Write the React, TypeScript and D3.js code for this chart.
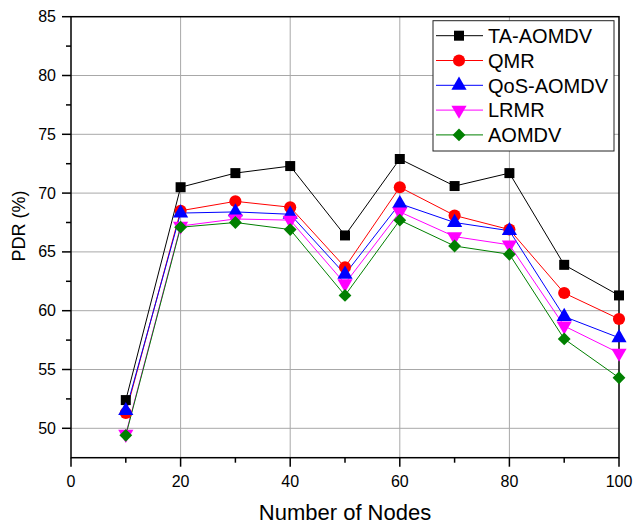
import React from "react";
import * as d3 from "d3";

const nodes = [10, 20, 30, 40, 50, 60, 70, 80, 90, 100];
const seriesNames = ["TA-AOMDV", "QMR", "QoS-AOMDV", "LRMR", "AOMDV"];
const taAomdv = [52.4, 70.5, 71.7, 72.3, 66.4, 72.9, 70.6, 71.7, 63.9, 61.3];
const qmr = [51.3, 68.5, 69.3, 68.8, 63.7, 70.5, 68.1, 66.9, 61.5, 59.3];
const qosAomdv = [51.5, 68.3, 68.4, 68.2, 63.1, 69.1, 67.5, 66.8, 59.5, 57.7];
const lrmr = [49.5, 67.2, 67.8, 67.7, 62.3, 68.4, 66.3, 65.6, 58.7, 56.4];
const aomdv = [49.4, 67.1, 67.5, 66.9, 61.3, 67.7, 65.5, 64.8, 57.6, 54.3];
const xTicks = [0, 20, 40, 60, 80, 100];
const yTicks = [50, 55, 60, 65, 70, 75, 80, 85];

const W = 634;
const H = 525;
const left = 71;
const right = 619;
const top = 16.7;
const bottom = 457.7;

const FONT = "'Liberation Sans', Arial, sans-serif";

const styles = [
  { color: "#000000", symbol: d3.symbolSquare, size: 100, rotate: 0 },
  { color: "#ff0000", symbol: d3.symbolCircle, size: 115, rotate: 0 },
  { color: "#0000ff", symbol: d3.symbolTriangle, size: 100, rotate: 0 },
  { color: "#ff00ff", symbol: d3.symbolTriangle, size: 100, rotate: 180 },
  { color: "#008000", symbol: d3.symbolSquare, size: 82, rotate: 45 },
];

export default function App() {
  const x = d3.scaleLinear().domain([0, 100]).range([left, right]);
  const y = d3.scaleLinear().domain([47.5, 85]).range([bottom, top]);
  const data = [taAomdv, qmr, qosAomdv, lrmr, aomdv];
  const line = d3
    .line<number>()
    .x((_, i) => x(nodes[i]))
    .y((d) => y(d));

  const xMinor = d3.range(10, 100, 20);
  const yMinor = d3.range(47.5, 85, 5).filter((v) => v > 47.5);

  const legX = 433;
  const legY = 20.7;
  const legW = 181;
  const legH = 130.3;
  const rowY = (i: number) => 35.7 + i * 24.8;

  return (
    <svg
      width={W}
      height={H}
      style={{ position: "absolute", left: 0, top: 0, background: "#fff" }}
      fontFamily={FONT}
    >
      <rect x={0} y={0} width={W} height={H} fill="#fff" />
      {/* grid */}
      {yTicks
        .filter((v) => v < 85)
        .map((v) => (
          <line key={"gy" + v} x1={left} x2={right} y1={y(v)} y2={y(v)} stroke="#a8a8a8" strokeWidth={1} />
        ))}
      {xTicks
        .filter((v) => v > 0 && v < 100)
        .map((v) => (
          <line key={"gx" + v} x1={x(v)} x2={x(v)} y1={top} y2={bottom} stroke="#a8a8a8" strokeWidth={1} />
        ))}
      {/* frame */}
      <rect x={left} y={top} width={right - left} height={bottom - top} fill="none" stroke="#000" strokeWidth={1.5} />
      {/* x ticks */}
      {xTicks.map((v) => (
        <g key={"xt" + v}>
          <line x1={x(v)} x2={x(v)} y1={bottom} y2={bottom + 9} stroke="#000" strokeWidth={1.5} />
          <text x={x(v)} y={487} textAnchor="middle" fontSize={16} fill="#000">
            {v}
          </text>
        </g>
      ))}
      {xMinor.map((v) => (
        <line key={"xm" + v} x1={x(v)} x2={x(v)} y1={bottom} y2={bottom + 5} stroke="#000" strokeWidth={1.5} />
      ))}
      {/* y ticks */}
      {yTicks.map((v) => (
        <g key={"yt" + v}>
          <line x1={left - 9} x2={left} y1={y(v)} y2={y(v)} stroke="#000" strokeWidth={1.5} />
          <text x={56} y={y(v) + 5.5} textAnchor="end" fontSize={16} fill="#000">
            {v}
          </text>
        </g>
      ))}
      {yMinor.map((v) => (
        <line key={"ym" + v} x1={left - 5} x2={left} y1={y(v)} y2={y(v)} stroke="#000" strokeWidth={1.5} />
      ))}
      {/* axis titles */}
      <text x={(left + right) / 2} y={520} textAnchor="middle" fontSize={22} fill="#000">
        Number of Nodes
      </text>
      <text
        transform={`translate(25,226) rotate(-90)`}
        textAnchor="middle"
        fontSize={18}
        fill="#000"
      >
        PDR (%)
      </text>
      {/* series lines */}
      {data.map((vals, si) => (
        <path key={"l" + si} d={line(vals) || ""} fill="none" stroke={styles[si].color} strokeWidth={1} />
      ))}
      {/* markers */}
      {data.map((vals, si) => {
        const st = styles[si];
        const path = d3.symbol().type(st.symbol).size(st.size)() || "";
        return (
          <g key={"m" + si}>
            {vals.map((v, i) => (
              <path
                key={i}
                d={path}
                transform={`translate(${x(nodes[i])},${y(v)}) rotate(${st.rotate})`}
                fill={st.color}
              />
            ))}
          </g>
        );
      })}
      {/* legend */}
      <rect x={legX} y={legY} width={legW} height={legH} fill="#fff" stroke="#222" strokeWidth={1} />
      {seriesNames.map((name, i) => {
        const st = styles[i];
        const path = d3.symbol().type(st.symbol).size(st.size)() || "";
        const ry = rowY(i);
        return (
          <g key={"lg" + i}>
            <line x1={436} x2={483} y1={ry} y2={ry} stroke={st.color} strokeWidth={1} />
            <path d={path} transform={`translate(459,${ry}) rotate(${st.rotate})`} fill={st.color} />
            <text x={488} y={ry + 7.3} fontSize={20} fill="#000">
              {name}
            </text>
          </g>
        );
      })}
    </svg>
  );
}
